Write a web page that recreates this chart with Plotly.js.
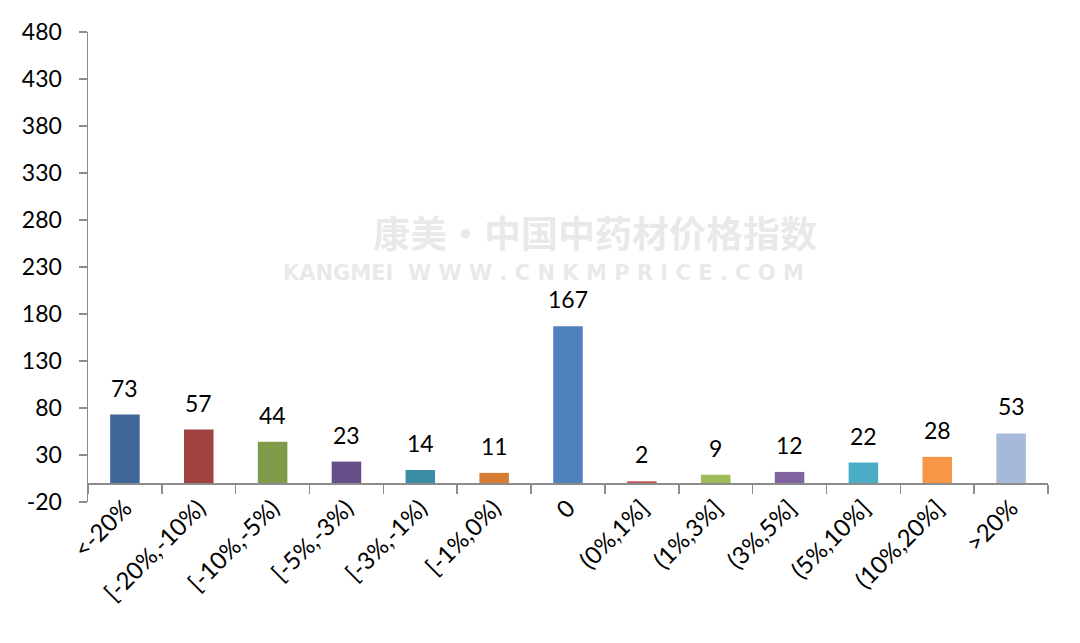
<!DOCTYPE html>
<html>
<head>
<meta charset="utf-8">
<script src="https://cdn.plot.ly/plotly-3.0.1.min.js"></script>
<style>html,body{margin:0;padding:0;background:#fff;}#chart{width:1080px;height:643px;}</style>
</head>
<body>
<div id="chart"></div>
<script>
const categories = ["<-20%", "[-20%,-10%)", "[-10%,-5%)", "[-5%,-3%)", "[-3%,-1%)", "[-1%,0%)", "0", "(0%,1%]", "(1%,3%]", "(3%,5%]", "(5%,10%]", "(10%,20%]", ">20%"];
const counts = [73, 57, 44, 23, 14, 11, 167, 2, 9, 12, 22, 28, 53];
const barColors = ["#3F6797", "#A04340", "#7F9A48", "#664E88", "#3B8DA5", "#D77C34", "#4F81BD", "#C0504D", "#9BBB59", "#8064A2", "#4BACC6", "#F79646", "#A7B9D9"];
const yTicks = [-20, 30, 80, 130, 180, 230, 280, 330, 380, 430, 480];

const FONT = "Lato, 'Open Sans', sans-serif";

const trace = {
  type: "bar",
  x: categories,
  y: counts,
  marker: {color: barColors, line: {width: 0}},
  width: 0.4,
  hoverinfo: "x+y"
};

const annotations = categories.map((c, i) => ({
  x: i, y: counts[i], xref: "x", yref: "y",
  text: String(counts[i]), showarrow: false,
  yanchor: "bottom", yshift: 12, borderpad: 0,
  font: {family: FONT, size: 23, color: "#000"}
}));

annotations.push({
  xref: "paper", yref: "paper", x: 0.528, y: 0.575,
  text: "<b>康美·中国中药材价格指数</b>", showarrow: false,
  font: {family: "'Noto Sans CJK SC', sans-serif", size: 37, color: "rgba(205,205,205,0.45)"}
});
annotations.push({
  xref: "paper", yref: "paper", x: 0.474, y: 0.488, borderpad: 0,
  text: "<b>KANGMEI  W W W . C N K M P R I C E . C O M</b>", showarrow: false,
  font: {family: "'DejaVu Sans', sans-serif", size: 21, color: "rgba(205,205,205,0.45)"}
});

const layout = {
  width: 1080, height: 643,
  margin: {l: 88, r: 32, t: 32, b: 141},
  paper_bgcolor: "#fff", plot_bgcolor: "#fff",
  showlegend: false,
  bargap: 0.6,
  xaxis: {
    type: "category",
    anchor: "free", position: 0.04,
    showline: true, linecolor: "#8c8c8c", linewidth: 1.5,
    ticks: "outside", ticklen: 9, tickcolor: "#8c8c8c", tickwidth: 1.5,
    tickson: "boundaries",
    tickangle: -45,
    tickfont: {family: FONT, size: 24, color: "#000"},
    showgrid: false, zeroline: false, fixedrange: true
  },
  yaxis: {
    range: [-20, 480],
    tickvals: yTicks,
    ticktext: yTicks.map(String),
    showline: true, linecolor: "#8c8c8c", linewidth: 1.5,
    ticks: "outside", ticklen: 8, tickcolor: "#8c8c8c", tickwidth: 1.5,
    ticklabelstandoff: 12,
    tickfont: {family: FONT, size: 23, color: "#000"},
    showgrid: false, zeroline: false, fixedrange: true
  },
  annotations: annotations
};

Plotly.newPlot("chart", [trace], layout, {displayModeBar: false, staticPlot: true});
</script>
</body>
</html>
